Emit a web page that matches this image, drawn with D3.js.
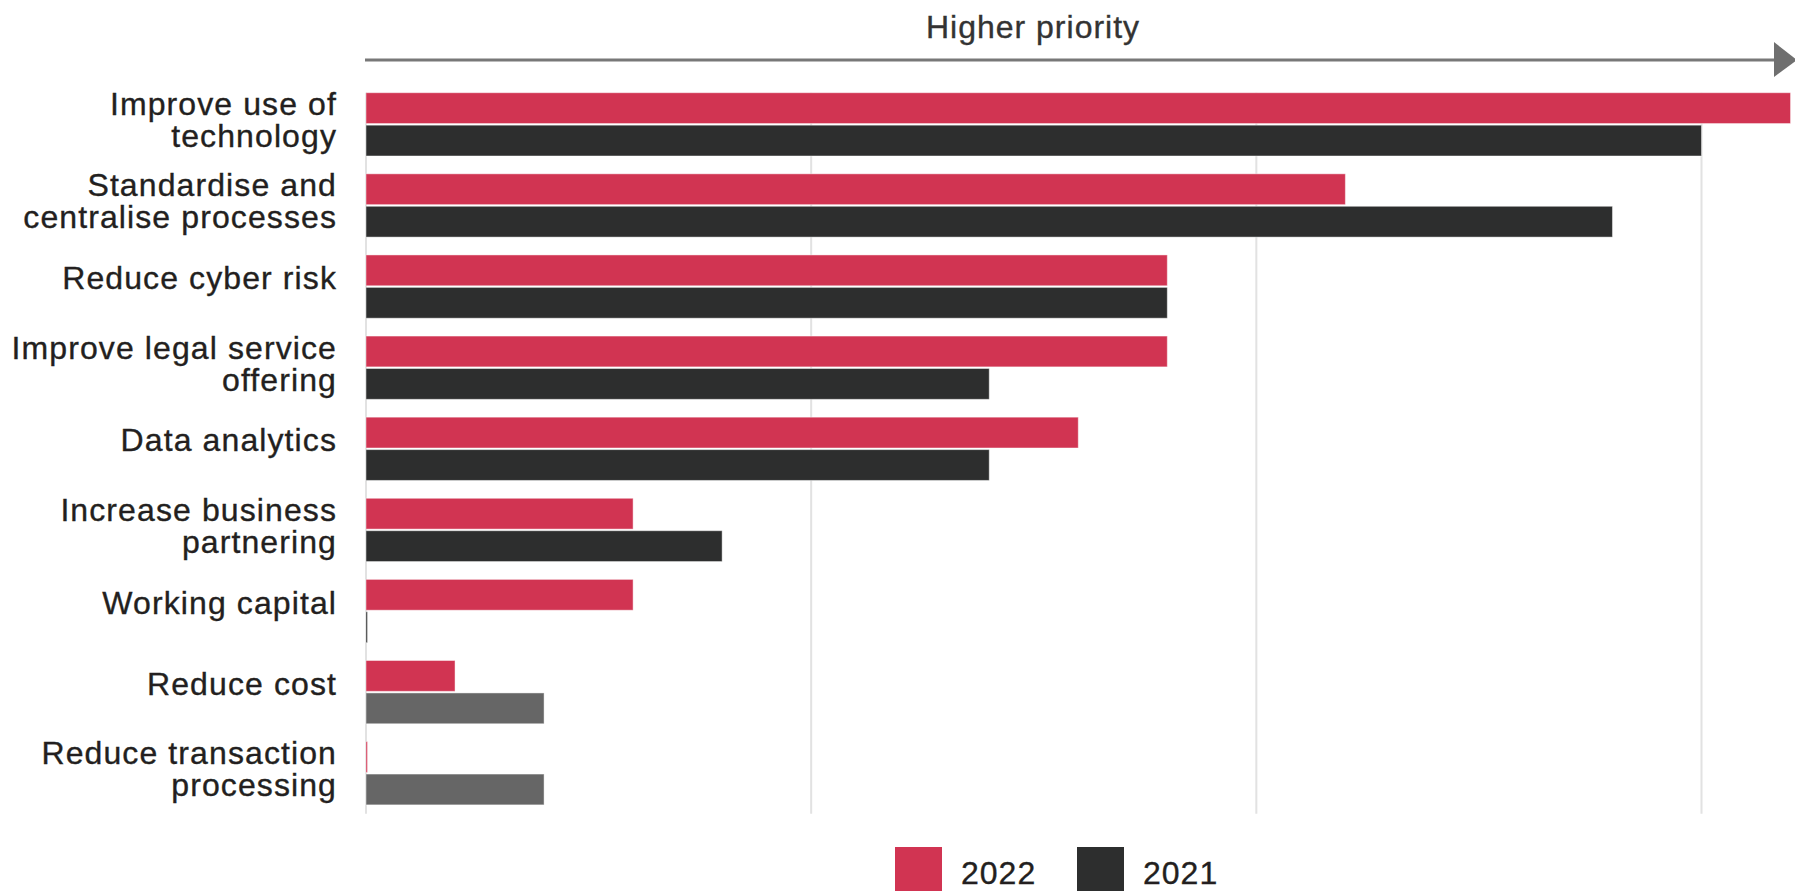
<!DOCTYPE html>
<html>
<head>
<meta charset="utf-8">
<script src="https://cdn.jsdelivr.net/npm/d3@7"></script>
<style>
  body { margin: 0; background: #fff; }
  svg text { font-family: "Liberation Sans", Arial, sans-serif; fill: #231f20; }
</style>
</head>
<body>
<svg id="drawing_region"></svg>
<script>
// categories, label lines split with "|"
const categories = [
  "Improve use of|technology",
  "Standardise and|centralise processes",
  "Reduce cyber risk",
  "Improve legal service|offering",
  "Data analytics",
  "Increase business|partnering",
  "Working capital",
  "Reduce cost",
  "Reduce transaction|processing"
];
const series = ["2022", "2021"];
const values2022 = [16, 11, 9, 9, 8, 3, 3, 1, 0];
const values2021 = [15, 14, 9, 7, 7, 4, 0, 2, 2];
// 2021 bars drawn in the lighter grey in the original
const lighter2021 = ["Reduce cost", "Reduce transaction|processing"];
const gridValues = [0, 5, 10, 15];
const axisTitle = "Higher priority";

const config = {
  width: 1795,
  height: 891,
  left: 366,
  right: 1701.5,
  top: 83.8,
  bottom: 813.8
};

const colors = { "2022": "#d13452", "2021": "#2d2e2e", light: "#666666" };

const data = categories.map((c, i) => ({
  label: c,
  values: [
    { key: "2022", value: values2022[i] },
    { key: "2021", value: values2021[i] }
  ]
}));

const svg = d3.select("#drawing_region")
  .attr("width", config.width)
  .attr("height", config.height);

const xscale = d3.scaleLinear()
  .domain([0, 15])
  .range([config.left, config.right]);

const yscale = d3.scaleBand()
  .domain(categories)
  .range([config.top, config.bottom])
  .paddingInner(0.22)
  .paddingOuter(0.11);

const inner = d3.scaleBand()
  .domain(series)
  .range([0, yscale.bandwidth()])
  .paddingInner(0.05);

// gridlines
svg.append("g")
  .selectAll("line")
  .data(gridValues)
  .join("line")
  .attr("x1", d => xscale(d))
  .attr("x2", d => xscale(d))
  .attr("y1", yscale(categories[0]))
  .attr("y2", config.bottom)
  .attr("stroke", "#e2e2e2")
  .attr("stroke-width", 2);

// bars
const groups = svg.append("g")
  .selectAll("g")
  .data(data)
  .join("g")
  .attr("transform", d => `translate(0,${yscale(d.label)})`);

groups.selectAll("rect")
  .data(d => d.values.map(v => Object.assign({ label: d.label }, v)))
  .join("rect")
  .attr("x", xscale(0))
  .attr("y", d => inner(d.key))
  .attr("width", d => Math.max(1.5, xscale(d.value) - xscale(0)))
  .attr("height", inner.bandwidth())
  .attr("fill", d => (d.key === "2021" && lighter2021.includes(d.label)) ? colors.light : colors[d.key])
  .attr("stroke", "rgba(255,255,255,0.45)")
  .attr("stroke-width", 1);

// category labels
const labels = svg.append("g")
  .selectAll("text")
  .data(categories)
  .join("text")
  .attr("text-anchor", "end")
  .attr("font-size", 32)
  .attr("letter-spacing", 1.1)
  .attr("stroke", "#231f20")
  .attr("stroke-width", 0.35)
  .attr("transform", d => `translate(337,${yscale(d) + yscale.bandwidth() / 2})`);

labels.each(function(d) {
  const lines = d.split("|");
  const offsets = lines.length === 1 ? [2.5] : [-9, 23];
  d3.select(this).selectAll("tspan")
    .data(lines)
    .join("tspan")
    .attr("x", 0)
    .attr("y", (l, i) => offsets[i])
    .text(l => l);
});

// priority arrow
svg.append("line")
  .attr("x1", xscale(0) - 1)
  .attr("x2", 1778)
  .attr("y1", 60)
  .attr("y2", 60)
  .attr("stroke", "#787878")
  .attr("stroke-width", 3);

svg.append("path")
  .attr("d", "M1774,42 L1797,60 L1774,77 Z")
  .attr("fill", "#6f6f6f");

svg.append("text")
  .attr("x", 1033)
  .attr("y", 38)
  .attr("text-anchor", "middle")
  .attr("font-size", 32)
  .attr("letter-spacing", 1.0)
  .attr("stroke", "#333")
  .attr("stroke-width", 0.35)
  .style("fill", "#333")
  .text(axisTitle);

// legend
const legendX = [895, 1077];
const legend = svg.append("g")
  .selectAll("g")
  .data(series)
  .join("g")
  .attr("transform", (d, i) => `translate(${legendX[i]},847)`);

legend.append("rect")
  .attr("width", 47)
  .attr("height", 47)
  .attr("fill", d => colors[d]);

legend.append("text")
  .attr("x", 66)
  .attr("y", 36.5)
  .attr("font-size", 32)
  .attr("letter-spacing", 1.0)
  .attr("stroke", "#231f20")
  .attr("stroke-width", 0.35)
  .text(d => d);
</script>
</body>
</html>
